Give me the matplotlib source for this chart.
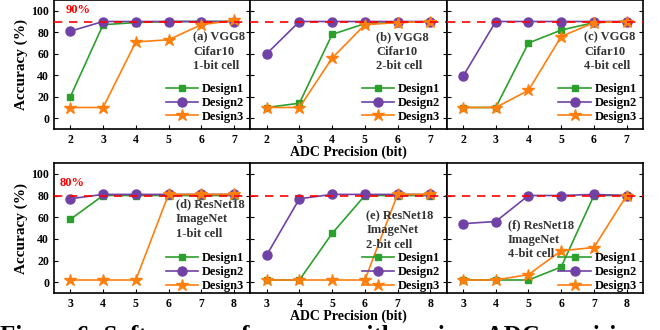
import matplotlib
matplotlib.use("Agg")
from matplotlib import pyplot as plt
import numpy as np

plt.rcParams["font.family"] = ["Liberation Serif", "DejaVu Serif"]
plt.rcParams["font.weight"] = "bold"

# x values
adc_vgg = [2, 3, 4, 5, 6, 7]
adc_resnet = [3, 4, 5, 6, 7, 8]

# VGG8 / Cifar10
vgg_1bit_d1 = [20, 87, 89, 90, 90, 90]
vgg_1bit_d2 = [81, 90, 90, 90, 90, 90]
vgg_1bit_d3 = [10, 10, 71, 73, 87, 91]

vgg_2bit_d1 = [10, 14, 78, 88, 89, 90]
vgg_2bit_d2 = [60, 90, 90, 90, 90, 90]
vgg_2bit_d3 = [10, 10, 56, 87, 89, 90]

vgg_4bit_d1 = [10, 10, 70, 82, 89, 90]
vgg_4bit_d2 = [39, 90, 90, 90, 90, 90]
vgg_4bit_d3 = [10, 10, 26, 76, 89, 90]

# ResNet18 / ImageNet
res_1bit_d1 = [58, 80, 80, 80, 80, 80]
res_1bit_d2 = [77, 81, 81, 81, 81, 81]
res_1bit_d3 = [2, 2, 2, 81, 81, 81]

res_2bit_d1 = [2, 2, 45, 80, 80, 80]
res_2bit_d2 = [25, 77, 81, 81, 81, 81]
res_2bit_d3 = [2, 2, 2, 2, 81, 81]

res_4bit_d1 = [2, 2, 2, 14, 80, 80]
res_4bit_d2 = [54, 56, 80, 80, 81, 80]
res_4bit_d3 = [2, 2, 7, 29, 32, 80]

vgg_titles = ["(a) VGG8\nCifar10\n1-bit cell", "(b) VGG8\nCifar10\n2-bit cell", "(c) VGG8\nCifar10\n4-bit cell"]
res_titles = ["(d) ResNet18\nImageNet\n1-bit cell", "(e) ResNet18\nImageNet\n2-bit cell", "(f) ResNet18\nImageNet\n4-bit cell"]

vgg_data = [
    (vgg_1bit_d1, vgg_1bit_d2, vgg_1bit_d3),
    (vgg_2bit_d1, vgg_2bit_d2, vgg_2bit_d3),
    (vgg_4bit_d1, vgg_4bit_d2, vgg_4bit_d3),
]
res_data = [
    (res_1bit_d1, res_1bit_d2, res_1bit_d3),
    (res_2bit_d1, res_2bit_d2, res_2bit_d3),
    (res_4bit_d1, res_4bit_d2, res_4bit_d3),
]

colors = ["#2ca02c", "#7142a6", "#ff7f0e"]
markers = ["s", "o", "*"]
msizes = [5, 6.5, 9]
names = ["Design1", "Design2", "Design3"]

# text positions (axes fraction) for each panel label
vgg_txt = [(0.71, 0.76), (0.64, 0.76), (0.70, 0.76)]
res_txt = [(0.62, 0.73), (0.59, 0.64), (0.31, 0.57)]

fig = plt.figure(figsize=(6.6, 3.3), dpi=100)

left, right = 54 / 660, 643 / 660
w = (right - left) / 3


def draw_row(bottom, height, xs, data, titles, txtpos, thresh, xlim, leg_y):
    axes = []
    for i in range(3):
        ax = fig.add_axes([left + i * w, bottom, w, height])
        for d in range(3):
            ax.plot(xs, data[i][d], color=colors[d], marker=markers[d],
                    markersize=msizes[d], lw=1.2, label=names[d], zorder=3)
        ax.axhline(thresh, color="red", ls="--", lw=1.2, dashes=(5, 4), zorder=4)
        ax.set_xlim(*xlim)
        ax.set_ylim(-10, 110)
        ax.set_xticks(xs)
        ax.set_yticks(range(0, 101, 20))
        ax.tick_params(direction="in", left=True, right=True, labelsize=8.5, length=3)
        if i > 0:
            ax.set_yticklabels([])
        for lab in ax.get_xticklabels() + ax.get_yticklabels():
            lab.set_fontweight("bold")
        for sp in ax.spines.values():
            sp.set_linewidth(1.2)
        ax.text(txtpos[i][0], txtpos[i][1], titles[i], transform=ax.transAxes,
                fontsize=9, fontweight="bold", color="#333333", va="top",
                linespacing=1.3)
        ax.legend(loc="lower right", bbox_to_anchor=(1.0, leg_y), frameon=False,
                  handlelength=2.6, borderaxespad=0.1, labelspacing=0.15,
                  handletextpad=0.3, prop={"weight": "bold", "size": 9})
        axes.append(ax)
    axes[0].set_ylabel("Accuracy (%)", fontsize=11, fontweight="bold", labelpad=2)
    axes[1].set_xlabel("ADC Precision (bit)", fontsize=10, fontweight="bold", labelpad=0)
    return axes


top_axes = draw_row(1 - 129 / 330, 129 / 330, adc_vgg, vgg_data, vgg_titles,
                    vgg_txt, 90, (1.5, 7.5), 0.0)
bot_axes = draw_row(1 - 293 / 330, 130 / 330, adc_resnet, res_data, res_titles,
                    res_txt, 80, (2.5, 8.5), -0.04)

top_axes[0].text(1.85, 95, "90%", color="red", fontsize=9, fontweight="bold",
                 va="bottom")
bot_axes[0].text(2.68, 86, "80%", color="red", fontsize=9, fontweight="bold",
                 va="bottom")

fig.text(0.0, 0.014, "Figure 6: Software performance with various ADC precisions",
         fontsize=18, fontweight="bold", va="top", ha="left")

fig.savefig("out.png", dpi=100)
